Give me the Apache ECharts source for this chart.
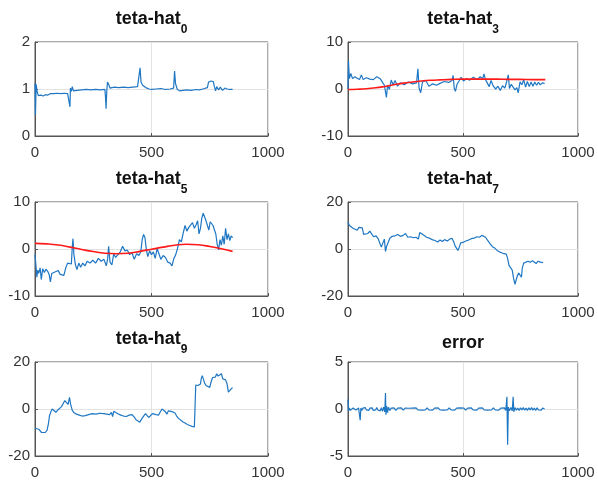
<!DOCTYPE html>
<html>
<head>
<meta charset="utf-8">
<script src="https://cdn.jsdelivr.net/npm/echarts@6/dist/echarts.min.js"></script>
<style>
  html, body { margin: 0; padding: 0; background: #fff; }
  #main { width: 598px; height: 482px; }
</style>
</head>
<body>
<div id="main"></div>
<script>
// x axis ticks shared by all panels
var xTicks = [0, 500, 1000];

// titles: main part + subscript
var titleMain = ['teta-hat', 'teta-hat', 'teta-hat', 'teta-hat', 'teta-hat', 'error'];
var titleSub = ['0', '3', '5', '7', '9', ''];

// y ranges [min, max, step]
var yRanges = [[0, 2, 1], [-10, 10, 10], [-10, 10, 10], [-20, 20, 20], [-20, 20, 20], [-5, 5, 5]];

// teta-hat_0
var theta0 = [[0,1.12],[2,0.45],[5,1.1],[9,0.95],[14,0.86],[25,0.87],[35,0.85],[45,0.88],[55,0.87],[65,0.9],[80,0.9],[95,0.91],
  [110,0.9],[125,0.91],[140,0.9],[148,0.91],[150,0.62],[152,1.02],[156,0.95],[160,1.05],[165,0.96],[172,0.98],[180,0.97],
  [200,0.98],[220,0.99],[240,0.98],[260,0.99],[280,0.98],[300,0.99],[303,0.8],[305,0.58],[308,0.95],[311,1.15],[316,1.1],
  [322,1.02],[340,1.04],[360,1.03],[380,1.04],[400,1.03],[420,1.04],[440,1.05],[448,1.08],[451,1.45],[455,1.15],[462,1.08],
  [475,1.03],[490,1.0],[500,0.99],[520,1.0],[540,1.01],[560,0.99],[580,1.0],[595,1.02],[599,1.38],[603,1.12],[610,1.0],
  [620,0.96],[635,0.97],[650,0.98],[670,0.97],[690,0.99],[705,0.98],[720,1.0],[740,1.03],[745,1.15],[755,1.17],[765,1.16],
  [770,1.05],[775,0.96],[780,1.05],[788,0.98],[795,1.04],[805,0.97],[815,1.02],[825,1.0],[835,0.99],[848,0.99]];

// teta-hat_3 estimate and true value
var theta3 = [[0,0],[2,6],[6,2.2],[12,3.3],[20,2.2],[30,2.6],[40,2.3],[50,2.0],[58,3.0],[66,2.0],[80,2.4],[95,2.1],
  [110,2.0],[125,2.6],[140,2.2],[150,1.4],[158,0.8],[163,-0.6],[167,-1.8],[172,0.8],[180,-0.1],[188,1.9],[196,0.9],
  [205,1.8],[215,0.6],[228,1.3],[245,0.9],[262,1.5],[280,1.1],[298,1.3],[304,4.3],[309,0.2],[316,-0.8],[324,1.5],
  [338,1.8],[352,0.6],[368,1.1],[385,0.8],[400,1.2],[418,1.6],[438,1.4],[452,1.8],[457,2.9],[462,0.1],[467,-0.5],
  [474,1.0],[484,1.8],[492,2.5],[502,1.7],[515,2.2],[530,1.9],[545,2.5],[560,2.0],[575,2.6],[586,2.2],[591,3.2],
  [598,2.0],[606,1.6],[614,0.5],[622,1.8],[632,0.6],[642,0.0],[652,0.6],[662,-0.3],[672,0.7],[682,0.2],[690,1.6],
  [697,3.0],[702,0.1],[710,1.0],[718,0.4],[726,-0.2],[734,0.3],[740,-0.8],[748,1.5],[756,0.9],[764,2.0],[772,0.4],
  [780,1.6],[788,0.5],[796,1.5],[804,0.6],[812,1.5],[820,0.8],[828,1.4],[836,0.9],[845,1.3],[855,1.2]];
var theta3True = [[0,-0.1],[40,-0.05],[80,0.05],[120,0.25],[160,0.55],[200,0.9],[240,1.25],[280,1.5],[320,1.7],
  [360,1.85],[400,1.95],[450,2.05],[500,2.1],[550,2.1],[600,2.1],[650,2.1],[700,2.05],[750,2.05],[800,2.0],[858,2.0]];

// teta-hat_5 estimate and true value
var theta5 = [[0,-1.2],[4,-3.5],[8,-6.0],[12,-4.5],[16,-5.2],[22,-4.0],[27,-6.5],[33,-4.2],[40,-5.0],[47,-4.3],
  [55,-4.8],[61,-5.5],[66,-7.0],[72,-5.2],[80,-5.6],[90,-4.8],[100,-4.6],[108,-5.4],[116,-5.0],[124,-5.6],[132,-4.0],
  [140,-3.0],[148,-2.6],[156,-3.2],[160,0.5],[163,2.2],[167,-1.2],[173,-3.2],[180,-4.4],[188,-3.0],[196,-3.9],
  [205,-3.0],[214,-3.6],[224,-2.6],[236,-3.0],[248,-2.4],[260,-3.0],[272,-2.0],[284,-2.6],[296,-2.2],[306,-3.6],
  [312,-2.0],[316,0.6],[322,-2.8],[330,-3.4],[338,-1.0],[346,-1.8],[356,-1.2],[366,-0.6],[376,0.6],[386,-0.4],
  [396,-0.2],[406,-1.2],[416,-0.8],[426,-2.2],[436,-1.0],[446,-1.4],[454,-0.6],[460,2.0],[466,3.1],[472,2.4],
  [478,-0.2],[484,-1.6],[492,-0.4],[500,-1.2],[508,-0.6],[516,-2.0],[524,0.1],[532,-1.0],[540,-2.2],[550,-1.4],
  [560,-1.8],[570,-2.8],[580,-3.0],[588,-3.6],[596,-2.0],[604,-1.2],[612,0.2],[620,2.0],[628,1.5],[636,3.4],
  [644,5.0],[652,3.8],[660,4.6],[668,4.2],[676,5.6],[684,4.4],[692,5.2],[698,6.0],[704,3.2],[710,4.4],[716,6.6],
  [722,7.6],[728,8.0],[734,6.0],[740,5.0],[746,4.0],[752,5.8],[758,6.2],[764,5.0],[770,4.6],[776,3.2],[782,1.0],
  [788,-0.2],[794,2.0],[800,0.8],[806,2.8],[812,1.0],[818,4.4],[824,2.0],[830,3.2],[836,1.8],[842,2.8],[848,2.4]];
var theta5True = [[0,1.2],[50,1.1],[100,0.85],[150,0.4],[200,-0.1],[250,-0.55],[300,-0.9],[350,-1.0],[400,-0.9],
  [450,-0.5],[500,-0.05],[550,0.4],[600,0.8],[650,1.0],[700,0.9],[750,0.55],[800,0.05],[848,-0.5]];

// teta-hat_7
var theta7 = [[0,11.5],[6,10.0],[14,9.6],[22,8.8],[30,8.4],[40,8.0],[48,9.2],[55,10.0],[62,9.0],[68,6.2],[76,7.0],
  [86,6.6],[95,7.6],[104,6.2],[112,5.2],[122,5.6],[132,4.2],[140,2.0],[145,0.8],[152,1.6],[158,4.2],[163,-1.0],
  [168,1.2],[176,0.8],[182,4.6],[192,5.4],[204,5.6],[216,6.2],[228,5.4],[240,5.8],[250,6.6],[260,5.0],[272,5.2],
  [284,4.8],[296,5.0],[306,4.2],[312,7.0],[320,6.4],[330,5.8],[342,5.0],[354,4.6],[366,4.0],[378,3.6],[390,3.0],
  [400,3.8],[410,3.2],[420,4.0],[432,3.4],[442,4.2],[452,4.6],[460,3.0],[466,1.2],[472,0.6],[478,-0.6],[484,0.8],
  [490,2.6],[500,2.8],[512,3.4],[524,3.8],[536,4.4],[548,4.6],[560,5.2],[572,5.0],[582,5.8],[590,6.2],[598,5.0],
  [608,3.6],[618,2.2],[628,1.0],[638,0.4],[648,-0.6],[658,-1.2],[668,-1.6],[678,-2.0],[688,-2.2],[694,-4.0],
  [700,-7.0],[708,-7.2],[714,-9.0],[720,-12.5],[726,-15.0],[732,-15.6],[736,-11.5],[742,-10.2],[748,-10.6],
  [754,-12.0],[758,-8.0],[764,-6.0],[772,-5.6],[782,-5.2],[792,-5.6],[802,-5.0],[810,-5.4],[818,-6.2],[826,-5.2],
  [836,-5.6],[848,-5.8]];

// teta-hat_9
var theta9 = [[0,-8.2],[8,-7.8],[16,-8.6],[22,-9.4],[28,-10.0],[36,-9.6],[44,-10.0],[52,-9.0],[58,-6.0],[62,-3.0],
  [68,-1.2],[74,0.0],[82,-0.6],[90,-1.4],[98,-0.4],[106,0.2],[114,1.0],[122,1.2],[128,3.6],[136,3.4],[142,2.0],
  [148,5.0],[153,2.0],[160,-0.6],[168,-1.6],[178,-2.2],[190,-2.6],[202,-3.0],[216,-2.8],[230,-2.4],[246,-2.0],
  [262,-2.2],[278,-1.8],[294,-2.0],[308,-2.2],[320,-2.4],[328,-1.4],[333,-3.2],[338,-1.0],[346,-1.6],[356,-2.0],
  [368,-2.6],[380,-3.0],[392,-3.2],[404,-2.6],[416,-2.4],[426,-3.4],[434,-4.6],[442,-5.2],[450,-5.6],[458,-4.2],
  [466,-3.6],[474,-2.0],[480,-2.6],[488,-3.6],[496,-2.8],[504,-2.0],[512,-1.2],[520,-2.4],[530,-2.6],[538,-1.2],
  [545,0.0],[552,-0.8],[560,-1.2],[566,-2.2],[572,-0.8],[578,0.0],[584,-1.0],[592,-0.6],[600,-1.6],[608,-3.0],
  [616,-4.0],[624,-4.8],[634,-5.4],[644,-6.0],[654,-6.6],[664,-7.0],[674,-7.4],[684,-7.6],[688,-7.4],[690,10.2],
  [700,10.0],[710,10.6],[714,13.2],[718,14.2],[724,15.0],[728,11.0],[734,10.0],[742,9.6],[750,9.2],[756,11.6],
  [762,13.4],[768,14.2],[774,13.6],[780,15.0],[786,14.0],[792,14.6],[800,15.0],[806,12.8],[812,12.0],[818,12.4],
  [824,10.8],[830,7.2],[836,8.0],[842,8.6],[848,9.0]];

// prediction error
var errorVals = [[0,1.0],[2,-0.2],[6,0.1],[10,-0.15],[14,0.05],[18,-0.2],[22,0.1],[26,-0.1],[30,0.15],[34,-0.1],
  [38,0.05],[42,-0.15],[46,0.1],[50,-0.1],[53,-1.2],[56,0.1],[60,-0.15],[65,0.1],[70,-0.05],[75,0.15],[80,-0.1],
  [85,0.05],[90,-0.15],[95,0.1],[100,-0.1],[105,0.12],[110,-0.15],[115,0.05],[120,-0.1],[125,0.15],[130,-0.1],
  [135,0.1],[140,-0.2],[145,0.15],[150,-0.25],[155,0.2],[160,-0.3],[163,1.7],[165,-0.6],[168,0.3],[172,-0.4],
  [176,0.2],[182,-0.15],[188,0.1],[194,-0.1],[200,0.12],[208,-0.15],[216,0.1],[224,-0.08],[232,0.12],[240,-0.12],
  [248,0.1],[256,-0.1],[264,0.08],[272,-0.12],[280,0.1],[288,-0.1],[296,0.12],[304,-0.1],[312,0.1],[320,-0.12],
  [328,0.08],[336,-0.1],[344,0.12],[352,-0.1],[360,0.1],[368,-0.12],[376,0.1],[384,-0.08],[392,0.12],[400,-0.1],
  [408,0.1],[416,-0.12],[424,0.08],[432,-0.1],[440,0.12],[448,-0.1],[456,0.1],[464,-0.12],[472,0.1],[480,-0.1],
  [488,0.12],[496,-0.08],[504,0.1],[512,-0.12],[520,0.1],[528,-0.1],[536,0.12],[544,-0.1],[552,0.08],[560,-0.12],
  [568,0.1],[576,-0.1],[584,0.12],[592,-0.1],[600,0.1],[608,-0.12],[616,0.08],[624,-0.1],[632,0.12],[640,-0.1],
  [648,0.1],[656,-0.12],[664,0.1],[672,-0.1],[680,0.12],[686,-0.15],[691,1.3],[694,-3.8],[697,0.2],[702,-0.2],
  [708,0.15],[714,-0.2],[718,1.3],[721,-0.3],[726,0.15],[732,-0.12],[738,0.1],[744,-0.15],[750,0.12],[756,-0.1],
  [762,0.15],[768,-0.12],[774,0.1],[780,-0.15],[786,0.12],[792,-0.1],[798,0.15],[804,-0.12],[810,0.1],[816,-0.15],
  [822,0.12],[828,-0.1],[834,0.1],[840,-0.12],[846,0.1],[855,0.0]];

var blueData = [theta0, theta3, theta5, theta7, theta9, errorVals];
var redData = [null, theta3True, theta5True, null, null, null];

var myChart = echarts.init(document.getElementById('main'));

var gridPos = [
  {left: 35, top: 42, width: 233, height: 94},
  {left: 348, top: 42, width: 230, height: 94},
  {left: 35, top: 202, width: 233, height: 94},
  {left: 348, top: 202, width: 230, height: 94},
  {left: 35, top: 362, width: 233, height: 94},
  {left: 348, top: 362, width: 230, height: 94}
];

var font = 'Liberation Sans, Arial, Helvetica, sans-serif';
var grids = [], xAxes = [], yAxes = [], titles = [], series = [];

// plain numbers, no thousands separator
function plain(v) { return String(v); }

for (var i = 0; i < 6; i++) {
  var g = gridPos[i];
  grids.push({
    left: g.left, top: g.top, width: g.width, height: g.height,
    show: true, borderColor: '#555', borderWidth: 1, backgroundColor: '#fff'
  });
  xAxes.push({
    type: 'value', gridIndex: i,
    min: xTicks[0], max: xTicks[xTicks.length - 1], interval: xTicks[1] - xTicks[0],
    axisLine: {show: true, onZero: false, lineStyle: {color: '#555', width: 1}},
    axisTick: {show: true, inside: true, length: 3, lineStyle: {color: '#555'}},
    axisLabel: {fontSize: 15, color: '#333', fontFamily: font, margin: 9, formatter: plain},
    splitLine: {show: true, lineStyle: {color: '#e3e3e3', width: 1}}
  });
  var r = yRanges[i];
  yAxes.push({
    type: 'value', gridIndex: i,
    min: r[0], max: r[1], interval: r[2],
    axisLine: {show: true, onZero: false, lineStyle: {color: '#555', width: 1}},
    axisTick: {show: true, inside: true, length: 3, lineStyle: {color: '#555'}},
    axisLabel: {fontSize: 15, color: '#333', fontFamily: font, margin: 5, formatter: plain},
    splitLine: {show: true, lineStyle: {color: '#e3e3e3', width: 1}}
  });
  titles.push({
    text: '{a|' + titleMain[i] + '}' + (titleSub[i] ? '{b|' + titleSub[i] + '}' : ''),
    left: g.left + g.width / 2,
    top: (titleSub[i] ? 10 : 14) + Math.floor(i / 2) * 160,
    textAlign: 'center',
    padding: 0,
    textStyle: {
      rich: {
        a: {fontSize: 18, fontWeight: 'bold', color: '#111', fontFamily: font, lineHeight: 20, verticalAlign: 'top'},
        b: {fontSize: 12, fontWeight: 'bold', color: '#111', fontFamily: font, lineHeight: 26, verticalAlign: 'bottom'}
      }
    }
  });
  series.push({
    type: 'line', xAxisIndex: i, yAxisIndex: i,
    data: blueData[i], showSymbol: false, silent: true,
    lineStyle: {color: '#1f77c4', width: 1.2}
  });
  if (redData[i]) {
    series.push({
      type: 'line', xAxisIndex: i, yAxisIndex: i,
      data: redData[i], showSymbol: false, smooth: true, silent: true,
      lineStyle: {color: '#ff1a1a', width: 1.6}
    });
  }
}

var option = {
  animation: false,
  backgroundColor: '#fff',
  title: titles,
  grid: grids,
  xAxis: xAxes,
  yAxis: yAxes,
  series: series
};

myChart.setOption(option);
</script>
</body>
</html>
